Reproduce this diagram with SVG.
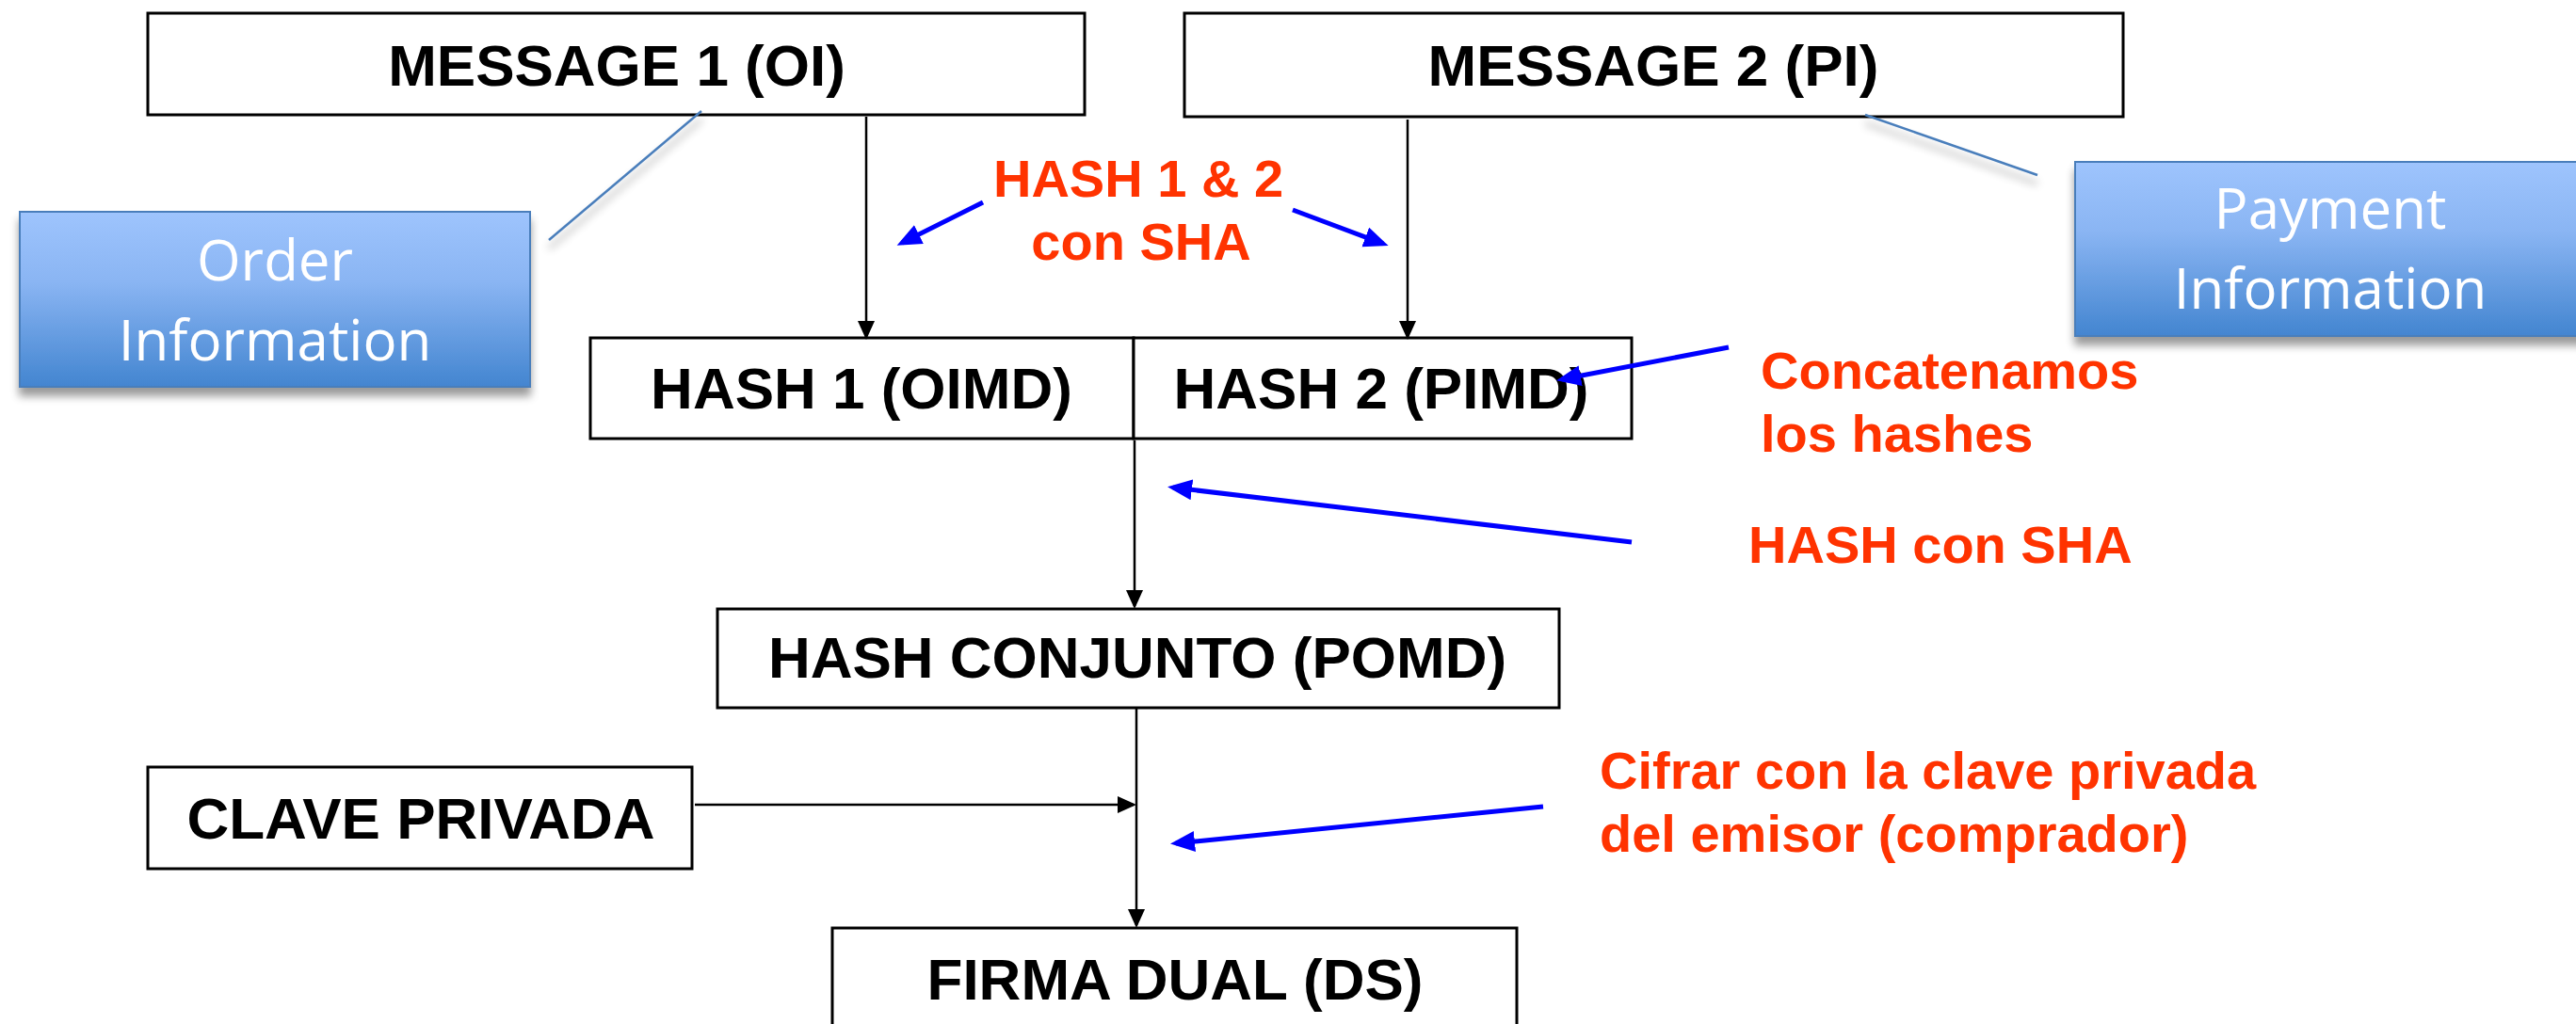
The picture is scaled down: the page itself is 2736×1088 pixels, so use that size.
<svg xmlns="http://www.w3.org/2000/svg" width="2736" height="1088" viewBox="0 0 2736 1088">
<style>
.box{fill:#ffffff;stroke:#000000;stroke-width:3}
.lbl{font-family:"Liberation Sans",Arial,sans-serif;font-weight:bold;font-size:62px;fill:#000000;text-anchor:middle}
.note{font-family:"Liberation Sans",Arial,sans-serif;font-weight:bold;font-size:56px;fill:#FF3300}
.info{fill:url(#blueGrad);stroke:#4A7EBB;stroke-width:2}
.infotxt{font-family:"Open Sans","Noto Sans",sans-serif;font-size:60px;fill:#ffffff;text-anchor:middle}
.blk{stroke:#000000;stroke-width:2.5;fill:none}
.blue{stroke:#0000FF;stroke-width:5;fill:none}
.callout{stroke:#4A7EBB;stroke-width:2.5;fill:none}
</style>
<defs>
<linearGradient id="blueGrad" x1="0" y1="0" x2="0" y2="1">
<stop offset="0" stop-color="#9EC4FD"/>
<stop offset="0.4" stop-color="#8AB5F3"/>
<stop offset="1" stop-color="#4385D0"/>
</linearGradient>
<filter id="shadow" x="-10%" y="-10%" width="130%" height="140%">
<feGaussianBlur in="SourceAlpha" stdDeviation="5"/>
<feOffset dx="0" dy="9" result="b"/>
<feComponentTransfer><feFuncA type="linear" slope="0.4"/></feComponentTransfer>
<feMerge><feMergeNode/><feMergeNode in="SourceGraphic"/></feMerge>
</filter>
<marker id="arrBlack" markerUnits="userSpaceOnUse" markerWidth="22" markerHeight="20" refX="17" refY="9" orient="auto">
<path d="M0,0 L20,9 L0,18 z" fill="#000000"/>
</marker>
<marker id="arrBlue" markerUnits="userSpaceOnUse" markerWidth="28" markerHeight="24" refX="20" refY="11" orient="auto">
<path d="M0,0 L26,11 L0,22 z" fill="#0000FF"/>
</marker>
</defs>
<rect width="2736" height="1088" fill="#ffffff"/>

<g id="message1">
<rect class="box" x="157" y="14" width="995" height="108"/>
<text class="lbl" x="655" y="91">MESSAGE 1 (OI)</text>
</g>
<g id="message2">
<rect class="box" x="1258" y="14" width="997" height="110"/>
<text class="lbl" x="1756" y="91">MESSAGE 2 (PI)</text>
</g>
<g id="orderInfo">
<rect class="info" x="21" y="225" width="542" height="186" filter="url(#shadow)"/>
<text class="infotxt" x="292" y="298">Order</text>
<text class="infotxt" x="292" y="383">Information</text>
</g>
<g id="paymentInfo">
<rect class="info" x="2204" y="172" width="542" height="185" filter="url(#shadow)"/>
<text class="infotxt" x="2475" y="243">Payment</text>
<text class="infotxt" x="2475" y="328">Information</text>
</g>
<g id="hash1">
<rect class="box" x="627" y="359" width="577" height="107"/>
<text class="lbl" x="915" y="434">HASH 1 (OIMD)</text>
</g>
<g id="hash2">
<rect class="box" x="1204" y="359" width="529" height="107"/>
<text class="lbl" x="1467" y="434">HASH 2 (PIMD)</text>
</g>
<g id="hashConjunto">
<rect class="box" x="762" y="647" width="894" height="105"/>
<text class="lbl" x="1208" y="720">HASH CONJUNTO (POMD)</text>
</g>
<g id="clavePrivada">
<rect class="box" x="157" y="815" width="578" height="108"/>
<text class="lbl" x="447" y="891">CLAVE PRIVADA</text>
</g>
<g id="firmaDual">
<rect class="box" x="884" y="986" width="727" height="120"/>
<text class="lbl" x="1248" y="1062">FIRMA DUAL (DS)</text>
</g>

<g id="labels">
<text class="note" x="1209" y="209" text-anchor="middle" font-size="55">HASH 1 &amp; 2</text>
<text class="note" x="1212" y="276" text-anchor="middle" font-size="55">con SHA</text>
<text class="note" x="1870" y="413">Concatenamos</text>
<text class="note" x="1870" y="480">los hashes</text>
<text class="note" x="1857" y="598">HASH con SHA</text>
<text class="note" x="1699" y="838">Cifrar con la clave privada</text>
<text class="note" x="1699" y="905">del emisor (comprador)</text>
</g>

<g id="connectors">
<line class="callout" x1="745" y1="118" x2="583" y2="255" filter="url(#shadow)"/>
<line class="callout" x1="1981" y1="122" x2="2164" y2="186" filter="url(#shadow)"/>
<line class="blk" x1="920" y1="124" x2="920" y2="358" marker-end="url(#arrBlack)"/>
<line class="blk" x1="1495" y1="127" x2="1495" y2="358" marker-end="url(#arrBlack)"/>
<line class="blk" x1="1205" y1="468" x2="1205" y2="644" marker-end="url(#arrBlack)"/>
<line class="blk" x1="1207" y1="752" x2="1207" y2="983" marker-end="url(#arrBlack)"/>
<line class="blk" x1="738" y1="855" x2="1204" y2="855" stroke-width="4" marker-end="url(#arrBlack)"/>
<line class="blue" x1="1044" y1="215" x2="958" y2="258" marker-end="url(#arrBlue)"/>
<line class="blue" x1="1373" y1="223" x2="1469" y2="259" marker-end="url(#arrBlue)"/>
<line class="blue" x1="1836" y1="369" x2="1659" y2="403" marker-end="url(#arrBlue)"/>
<line class="blue" x1="1733" y1="576" x2="1246" y2="518" marker-end="url(#arrBlue)"/>
<line class="blue" x1="1639" y1="857" x2="1249" y2="896" marker-end="url(#arrBlue)"/>
</g>
</svg>
